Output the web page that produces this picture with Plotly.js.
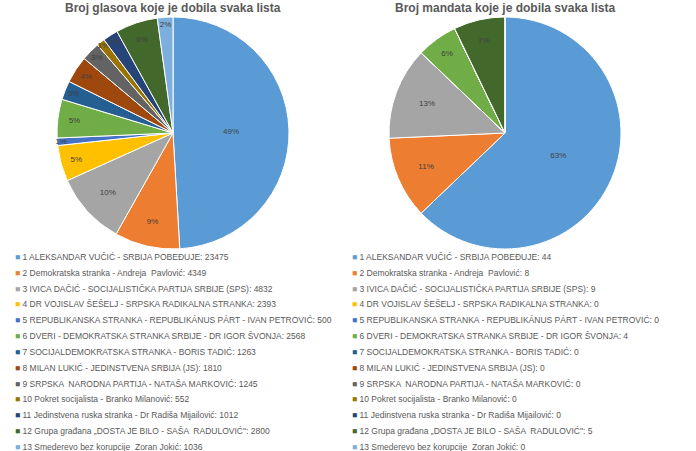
<!DOCTYPE html>
<html><head><meta charset="utf-8">
<script src="https://cdn.plot.ly/plotly-3.0.1.min.js"></script>
<style>html,body{margin:0;padding:0;background:#fff}#chart{width:696px;height:451px}</style>
</head><body><div id="chart"></div>
<script>
const parties = [
  "1 ALEKSANDAR VUČIĆ - SRBIJA POBEĐUJE",
  "2 Demokratska stranka - Andreja  Pavlović",
  "3 IVICA DAČIĆ - SOCIJALISTIČKA PARTIJA SRBIJE (SPS)",
  "4 DR VOJISLAV ŠEŠELJ - SRPSKA RADIKALNA STRANKA",
  "5 REPUBLIKANSKA STRANKA - REPUBLIKÁNUS PÁRT - IVAN PETROVIĆ",
  "6 DVERI - DEMOKRATSKA STRANKA SRBIJE - DR IGOR ŠVONJA",
  "7 SOCIJALDEMOKRATSKA STRANKA - BORIS TADIĆ",
  "8 MILAN LUKIĆ - JEDINSTVENA SRBIJA (JS)",
  "9 SRPSKA  NARODNA PARTIJA - NATAŠA MARKOVIĆ",
  "10 Pokret socijalista - Branko Milanović",
  "11 Jedinstvena ruska stranka - Dr Radiša Mijailović",
  "12 Grupa građana „DOSTA JE BILO - SAŠA  RADULOVIĆ\"",
  "13 Smederevo bez korupcije  Zoran Jokić"
];
const votes = [23475, 4349, 4832, 2393, 500, 2568, 1263, 1810, 1245, 552, 1012, 2800, 1036];
const seats = [44, 8, 9, 0, 0, 4, 0, 0, 0, 0, 0, 5, 0];
const colors = ["#5B9BD5","#ED7D31","#A5A5A5","#FFC000","#4472C4","#70AD47","#255E91","#9E480E","#636363","#997300","#264478","#43682B","#7CAFDD"];
const titleLeft = "Broj glasova koje je dobila svaka lista";
const titleRight = "Broj mandata koje je dobila svaka lista";

const W = 696, H = 451;
const R = 116;
function dom(cx, cy){ return {x:[(cx-R)/W,(cx+R)/W], y:[1-(cy+R)/H, 1-(cy-R)/H]}; }

function pie(vals, d){
  return {
    type:'pie', values: vals, labels: parties, sort:false, direction:'clockwise', rotation:0,
    marker:{colors: colors, line:{color:'#ffffff', width:1}},
    texttemplate: vals.map(v => v > 0 ? '%{percent:.0%}' : ''),
    textposition:'inside', insidetextorientation:'horizontal',
    textfont:{family:'Liberation Sans, Arial, sans-serif', size:8, color:'#404040'},
    domain: d, showlegend:false, hoverinfo:'label+value+percent'
  };
}

const annotations = [];
const legFont = 'Liberation Sans, Arial, sans-serif';
function legend(vals, x0){
  parties.forEach((p,i)=>{
    annotations.push({
      xref:'paper', yref:'paper', x:x0/W, y:1-(257+i*15.83)/H, xanchor:'left', yanchor:'middle',
      showarrow:false, align:'left',
      text:`<span style="color:${colors[i]}">■</span> ${p}: ${vals[i]}`,
      font:{family:legFont, size:8.5, color:'#595959'}
    });
  });
}
legend(votes, 13);
legend(seats, 350);
annotations.push({xref:'paper', yref:'paper', x:173/W, y:1-8/H, xanchor:'center', yanchor:'middle', showarrow:false,
  text:'<b>'+titleLeft+'</b>', font:{family:'Liberation Sans, Arial, sans-serif', size:12, color:'#595959'}});
annotations.push({xref:'paper', yref:'paper', x:505/W, y:1-8/H, xanchor:'center', yanchor:'middle', showarrow:false,
  text:'<b>'+titleRight+'</b>', font:{family:'Liberation Sans, Arial, sans-serif', size:12, color:'#595959'}});

Plotly.newPlot('chart', [pie(votes, dom(173,133)), pie(seats, dom(505,133))], {
  width:W, height:H, margin:{l:0,r:0,t:0,b:0}, paper_bgcolor:'#fff',
  uniformtext:{minsize:8, mode:'show'},
  annotations: annotations
}, {displayModeBar:false, staticPlot:true});
</script></body></html>
